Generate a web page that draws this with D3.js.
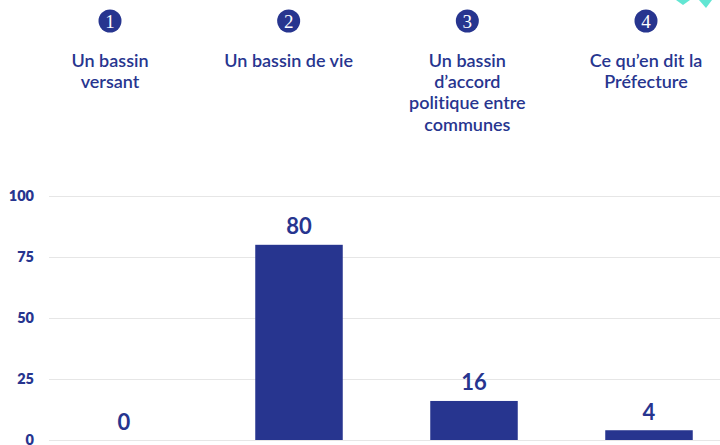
<!DOCTYPE html>
<html>
<head>
<meta charset="utf-8">
<script src="https://cdn.jsdelivr.net/npm/d3@7"></script>
<style>
  html, body { margin: 0; padding: 0; background: #fff; }
  svg { display: block; }
  text { font-variant-ligatures: none; }
</style>
</head>
<body>
<svg id="chart" width="720" height="445"></svg>
<script>
// ---- data ----
const categories = ["1", "2", "3", "4"];
const headerLines = [
  ["Un bassin", "versant"],
  ["Un bassin de vie"],
  ["Un bassin", "d’accord", "politique entre", "communes"],
  ["Ce qu’en dit la", "Préfecture"]
];
const values = [0, 80, 16, 4];
const tickValues = [0, 25, 50, 75, 100];

// ---- styles ----
const navy = "#27358f";
const svg = d3.select("#chart");
const W = 720, H = 445;

const x = d3.scaleBand().domain(categories).range([36.5, 736.5])
  .paddingInner(0.5).paddingOuter(0.25);
const y = d3.scaleLinear().domain([0, 100]).range([440, 196]);
const hx = d3.scalePoint().domain(categories).range([110, 646]);

// decorative teal tips (top right)
const deco = svg.append("g").attr("fill", "#62e6d3");
deco.append("path").attr("d", "M676,0 L690,0 L683,5 Z");
deco.append("path").attr("d", "M699,0 L712,0 L706,8 Z");

// grid + y axis
const axis = d3.axisLeft(y).tickValues(tickValues).tickSize(-(W - 49)).tickPadding(15);
const gA = svg.append("g").attr("transform", "translate(49,0)").call(axis);
gA.select(".domain").remove();
gA.selectAll(".tick line").attr("stroke", "#e6e6e6").attr("stroke-width", 1.2);
gA.selectAll(".tick text")
  .attr("fill", navy)
  .style("font-family", "Lato, sans-serif")
  .style("font-weight", "800")
  .style("font-size", "14.5px");

// bars
svg.append("g").selectAll("rect").data(values).join("rect")
  .attr("x", (d, i) => x(categories[i]))
  .attr("width", x.bandwidth())
  .attr("y", d => y(d))
  .attr("height", d => y(0) - y(d))
  .attr("fill", navy);

// value labels
svg.append("g").selectAll("text").data(values).join("text")
  .attr("x", (d, i) => x(categories[i]) + x.bandwidth() / 2)
  .attr("y", d => y(d) - 10.5)
  .attr("text-anchor", "middle")
  .attr("fill", navy)
  .style("font-family", "Lato, sans-serif")
  .style("font-weight", "700")
  .style("font-size", "22px")
  .text(d => d);

// header circles with numbers
const hg = svg.append("g").selectAll("g").data(categories).join("g")
  .attr("transform", d => `translate(${hx(d)},0)`);
hg.append("circle").attr("cx", 0).attr("cy", 21).attr("r", 11.5).attr("fill", navy);
hg.append("text")
  .attr("x", 0).attr("y", 27.5)
  .attr("text-anchor", "middle")
  .attr("fill", "#fff")
  .style("font-family", "'Liberation Serif', 'DejaVu Serif', serif")
  .style("font-size", "19px")
  .text(d => d);

// header text
hg.each(function(d, i) {
  const t = d3.select(this).append("text")
    .attr("text-anchor", "middle")
    .attr("fill", navy)
    .style("font-family", "Lato, sans-serif")
    .style("font-weight", "600")
    .style("font-size", "18px");
  t.selectAll("tspan").data(headerLines[i]).join("tspan")
    .attr("x", 0)
    .attr("y", (l, j) => 66.7 + j * 21.3)
    .text(l => l);
});
</script>
</body>
</html>
